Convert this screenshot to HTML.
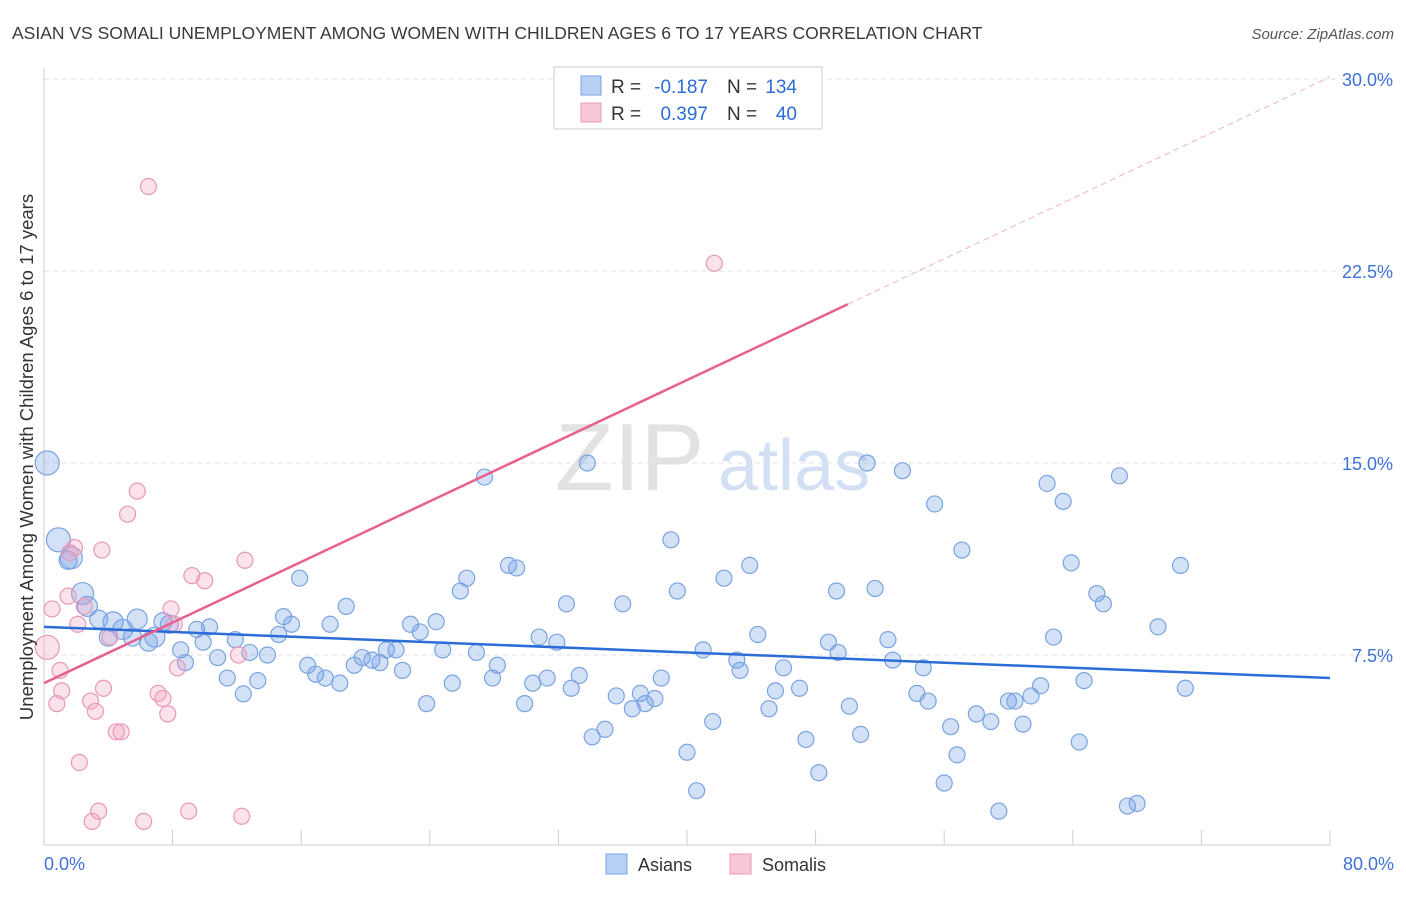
<!DOCTYPE html>
<html><head><meta charset="utf-8"><style>
body{margin:0;background:#fff;font-family:"Liberation Sans",sans-serif;}
svg text{font-family:"Liberation Sans",sans-serif;}
</style></head><body>
<svg id="chart" width="1406" height="892" xmlns="http://www.w3.org/2000/svg">
<text x="12" y="39" font-size="17.5" fill="#3a3a3a">ASIAN VS SOMALI UNEMPLOYMENT AMONG WOMEN WITH CHILDREN AGES 6 TO 17 YEARS CORRELATION CHART</text>
<text x="1394" y="39" font-size="15" fill="#555" text-anchor="end" font-style="italic">Source: ZipAtlas.com</text>
<g>
<text x="555" y="490" font-size="96" fill="#e2e2e2" font-family="Liberation Serif,serif">ZIP</text>
<text x="718" y="490" font-size="72" fill="#d3e0f4">atlas</text>
</g>
<g id="grid"></g>
<g id="axes"></g>
<g id="pts"></g>
<g id="lines"></g>
<g>
<rect x="554" y="67" width="268" height="62" fill="#fff" stroke="#ccc"/>
<rect x="581" y="76" width="20" height="19" fill="#b8d0f4" stroke="#7aa3e2"/>
<rect x="581" y="103" width="20" height="19" fill="#f8c8d8" stroke="#e898b8"/>
<text x="611" y="93" font-size="19" fill="#333">R =</text>
<text x="708" y="93" font-size="19" fill="#2b6cd6" text-anchor="end">-0.187</text>
<text x="727" y="93" font-size="19" fill="#333">N =</text>
<text x="797" y="93" font-size="19" fill="#2b6cd6" text-anchor="end">134</text>
<text x="611" y="120" font-size="19" fill="#333">R =</text>
<text x="708" y="120" font-size="19" fill="#2b6cd6" text-anchor="end">0.397</text>
<text x="727" y="120" font-size="19" fill="#333">N =</text>
<text x="797" y="120" font-size="19" fill="#2b6cd6" text-anchor="end">40</text>
</g>
<g>
<rect x="606" y="854" width="21" height="20" fill="#b8d0f4" stroke="#7aa3e2"/>
<text x="638" y="871" font-size="18" fill="#333">Asians</text>
<rect x="730" y="854" width="21" height="20" fill="#f8c8d8" stroke="#e898b8"/>
<text x="762" y="871" font-size="18" fill="#333">Somalis</text>
</g>
<text transform="translate(33,457) rotate(-90)" font-size="18.5" fill="#333" text-anchor="middle">Unemployment Among Women with Children Ages 6 to 17 years</text>
</svg>
<script>
const yTicks=[7.5,15,22.5,30];
const yTickLabels=["7.5%","15.0%","22.5%","30.0%"];
const xTickLabels=["0.0%","80.0%"];
const asianX=[0.2,0.9,1.5,1.7,2.4,2.7,3.4,4.3,4.0,4.9,5.5,5.8,6.5,6.9,7.4,7.8,8.5,8.8,9.5,9.9,10.3,10.8,11.4,11.9,12.4,12.8,13.3,13.9,14.6,14.9,15.4,15.9,16.4,16.9,17.5,17.8,18.4,18.8,19.3,19.8,20.4,20.9,21.3,21.9,22.3,22.8,23.4,23.8,24.4,24.8,25.4,25.9,26.3,26.9,27.4,27.9,28.2,28.9,29.4,29.9,30.4,30.8,31.3,31.9,32.5,32.8,33.3,33.8,34.1,34.9,35.6,36.0,36.6,37.1,37.4,38.0,38.4,39.0,39.4,40.0,40.6,41.0,41.6,42.3,43.1,43.3,43.9,44.4,45.1,45.5,46.0,47.0,47.4,48.2,48.8,49.3,49.4,50.1,50.8,51.2,51.7,52.5,52.8,53.4,54.3,54.7,55.0,55.4,56.0,56.4,56.8,57.1,58.0,58.9,59.4,60.0,60.4,60.9,61.4,62.0,62.4,62.8,63.4,63.9,64.4,64.7,65.5,65.9,66.9,67.4,68.0,69.3,70.7,71.0,71.6,73.5,77.4];
const asianY=[15.0,12.0,11.2,11.3,9.9,9.4,8.9,8.8,8.2,8.5,8.2,8.9,8.0,8.2,8.8,8.7,7.7,7.2,8.5,8.0,8.6,7.4,6.6,8.1,5.98,7.6,6.5,7.5,8.3,9.0,8.7,10.5,7.1,6.75,6.6,8.7,6.4,9.4,7.1,7.4,7.3,7.2,7.7,7.7,6.9,8.7,8.4,5.6,8.8,7.7,6.4,10.0,10.5,7.6,14.45,6.6,7.1,11.0,10.9,5.6,6.4,8.2,6.6,8.0,9.5,6.2,6.7,15.0,4.3,4.6,5.9,9.5,5.4,6.0,5.6,5.8,6.6,12.0,10.0,3.7,2.2,7.7,4.9,10.5,7.3,6.9,11.0,8.3,5.4,6.1,7.0,6.2,4.2,2.9,8.0,10.0,7.6,5.5,4.4,15.0,10.1,8.1,7.3,14.7,6.0,7.0,5.7,13.4,2.5,4.7,3.6,11.6,5.2,4.9,1.4,5.7,5.7,4.8,5.9,6.3,14.2,8.2,13.5,11.1,4.1,6.5,9.9,9.5,14.5,1.6,1.7,8.6,11.0,6.2];
const somaliX=[0.2,0.5,0.8,1.0,1.1,1.5,1.6,1.9,2.1,2.2,2.5,2.9,3.0,3.2,3.4,3.6,3.7,4.1,4.5,4.8,5.2,5.8,6.2,6.5,7.1,7.4,7.7,7.9,8.1,8.3,9.0,9.2,10.0,12.1,12.3,12.5,41.7];
const somaliY=[7.8,9.3,5.6,6.9,6.1,9.8,11.5,11.7,8.7,3.3,9.4,5.7,1.0,5.3,1.4,11.6,6.2,8.2,4.5,4.5,13.0,13.9,1.0,25.8,6.0,5.8,5.2,9.3,8.7,7.0,1.4,10.6,10.4,7.5,1.2,11.2,22.8];
const asianR=[12,12,9,11,11,10,9,10,9,10,9,10,9,10,9,9];
const xTrend=[0,80],asianTrend=[8.6,6.6],somaliTrend=[6.4,21.2],somaliEndX=50;
const X=v=>44+v*16.075, Y=v=>847-v*25.6;
const NS="http://www.w3.org/2000/svg";
function mk(tag,attrs,parent){const e=document.createElementNS(NS,tag);for(const k in attrs)e.setAttribute(k,attrs[k]);parent.appendChild(e);return e;}
const grid=document.getElementById('grid'),axes=document.getElementById('axes'),pts=document.getElementById('pts'),lines=document.getElementById('lines');
yTicks.forEach((t,i)=>{
 const l=mk('line',{x1:44,x2:1394,y1:Y(t),y2:Y(t),stroke:'#e2e2e2','stroke-dasharray':'5,4'},grid);
 
 
 const tx=mk('text',{x:1393,y:Y(t)+7,'font-size':18,fill:'#3f72d9','text-anchor':'end'},axes);
 tx.textContent=yTickLabels[i];
 
 
});
mk('line',{x1:44,x2:44,y1:68,y2:845,stroke:'#ccc'},axes);
mk('line',{x1:44,x2:1330,y1:845,y2:845,stroke:'#ccc'},axes);
for(let i=0;i<=10;i++){const t=mk('line',{x1:X(i*8),x2:X(i*8),y1:830,y2:845,stroke:'#ccc'},axes);
 
 }
[[0,'start',44],[1,'end',1394]].forEach(([i,a,x])=>{const t=mk('text',{x:x,y:870,'font-size':18,fill:'#3f72d9','text-anchor':a},axes);t.textContent=xTickLabels[i];
 
 });
const nA=Math.min(asianX.length,asianY.length);
for(let i=0;i<nA;i++){const c=mk('circle',{cx:X(asianX[i]),cy:Y(asianY[i]),r:asianR[i]||8,fill:'rgba(110,155,230,0.3)',stroke:'#7aa3e2','stroke-width':1.2},pts);
 
 }
const nS=Math.min(somaliX.length,somaliY.length);
for(let i=0;i<nS;i++){const c=mk('circle',{cx:X(somaliX[i]),cy:Y(somaliY[i]),r:i==0?12:8,fill:'rgba(245,160,190,0.3)',stroke:'#e898b8','stroke-width':1.2},pts);
 
 }
const sl=(xx)=>somaliTrend[0]+(somaliTrend[1]-somaliTrend[0])*(xx-xTrend[0])/(somaliEndX-xTrend[0]);
const a=mk('line',{x1:X(xTrend[0]),y1:Y(asianTrend[0]),x2:X(xTrend[1]),y2:Y(asianTrend[1]),stroke:'#2b6cd6','stroke-width':2.5},lines);


const s=mk('line',{x1:X(0),y1:Y(sl(0)),x2:X(somaliEndX),y2:Y(sl(somaliEndX)),stroke:'#e8608f','stroke-width':2.5},lines);


const sd=mk('line',{x1:X(somaliEndX),y1:Y(sl(somaliEndX)),x2:X(80),y2:Y(sl(80)),stroke:'#f0b0c8','stroke-width':1,'stroke-dasharray':'6,4'},lines);


</script>
</body></html>
